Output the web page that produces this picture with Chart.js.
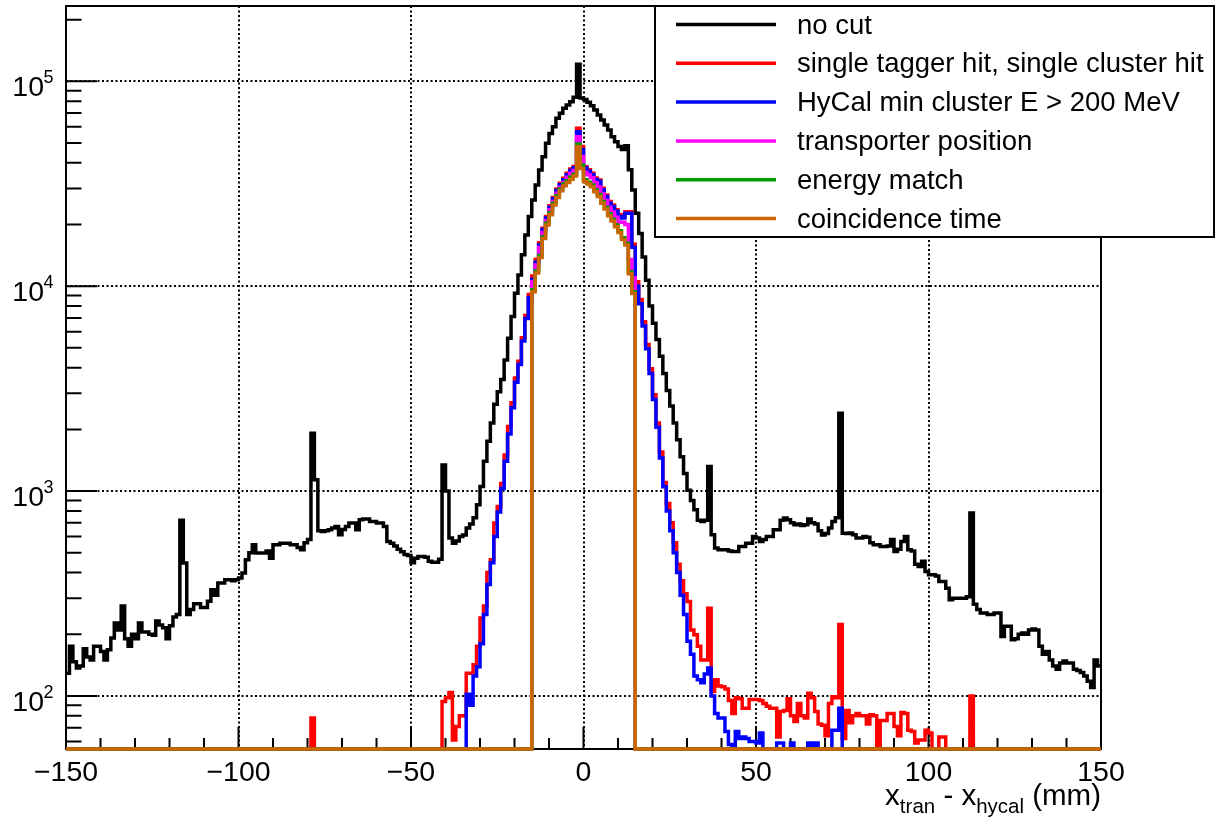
<!DOCTYPE html>
<html lang="en">

<head>
    <meta charset="UTF-8">
    <title>x_tran - x_hycal</title>
    <script src="https://cdn.jsdelivr.net/npm/chart.js"></script>
    <style>
        html, body {
            margin: 0;
            padding: 0;
            background: #fff;
        }

        canvas {
            display: block;
        }
    </style>
</head>

<body>
    <canvas id="diffChart" width="1217" height="823"></canvas>

    <script>
        // 1 mm bins from -150 to 150
        const binLow = -150;
        const binCount = 300;
        const xMin = -150, xMax = 150;
        const yMin = 55.1, yMax = 233100;

        const xMajorTicks = [-150, -100, -50, 0, 50, 100, 150];
        const yDecades = [100, 1000, 10000, 100000];
        const yExponents = ['2', '3', '4', '5'];

        const seriesLabels = [
            'no cut',
            'single tagger hit, single cluster hit',
            'HyCal min cluster E > 200 MeV',
            'transporter position',
            'energy match',
            'coincidence time'
        ];
        const seriesColors = ['#000000', '#ff0000', '#0000ff', '#ff00ff', '#009900', '#cc6600'];

        // no cut: every bin from -150 to 149
        const noCutCounts = [
            129, 175, 147, 137, 140, 170, 155, 150, 175, 175,
            165, 150, 168, 192, 227, 210, 275, 190, 175, 200,
            190, 227, 205, 205, 200, 198, 232, 222, 215, 190,
            220, 243, 250, 720, 446, 250, 264, 282, 282, 270,
            270, 290, 330, 310, 356, 356, 369, 369, 365, 369,
            377, 398, 462, 500, 547, 499, 499, 499, 510, 470,
            547, 547, 557, 557, 557, 547, 547, 530, 517, 560,
            580, 1918, 1135, 640, 635, 640, 647, 660, 671, 612,
            650, 671, 698, 698, 647, 724, 730, 730, 711, 711,
            698, 698, 671, 568, 557, 540, 520, 505, 490, 485,
            447, 470, 480, 480, 475, 454, 450, 450, 465, 1342,
            1000, 590, 557, 570, 600, 610, 660, 690, 740, 857,
            1052, 1400, 1750, 2150, 2650, 3050, 3500, 4365, 5572, 7110,
            9245, 11350, 14220, 17800, 21860, 26360, 31190, 36930, 42860, 49860,
            55700, 60060, 65960, 69820, 73800, 76600, 79550, 83500, 121000, 83000,
            81500, 79000, 76000, 72500, 68500, 64700, 61200, 57900, 53700, 50700,
            48000, 46500, 48500, 37000, 29500, 22700, 18100, 13900, 10700, 8000,
            6600, 5500, 4550, 3750, 3100, 2600, 2150, 1780, 1470, 1220,
            1010, 900, 811, 720, 710, 720, 1318, 612, 527, 517,
            517, 517, 510, 507, 507, 537, 537, 557, 557, 601,
            590, 568, 580, 601, 600, 647, 647, 720, 738, 724,
            700, 685, 690, 680, 685, 730, 700, 690, 640, 610,
            620, 660, 710, 740, 2400, 622, 620, 625, 612, 590,
            590, 600, 595, 560, 547, 547, 537, 537, 540, 580,
            507, 520, 568, 601, 517, 510, 440, 428, 454, 405,
            391, 391, 385, 362, 362, 336, 295, 300, 300, 300,
            300, 305, 781, 280, 264, 254, 254, 250, 250, 254,
            254, 195, 219, 219, 188, 190, 200, 203, 200, 210,
            212, 210, 175, 160, 165, 150, 140, 135, 145, 148,
            145, 145, 135, 133, 130, 125, 118, 110, 150, 140
        ];

        // single tagger hit, single cluster hit: bins -79 .. 112 (empty elsewhere)
        const singleHitFirst = -79;
        const singleHitCounts = [
            78,
            0, 0, 0, 0, 0, 0, 0, 0, 0, 0, 0, 0, 0, 0, 0, 0, 0, 0, 0,
            0, 0, 0, 0, 0, 0, 0, 0, 0, 0, 0, 0, 0, 0, 0, 0, 0, 0,
            94, 98, 104, 61, 71, 80, 80, 129, 129, 142,
            175, 240, 275, 400, 462, 698, 841, 1090, 1500, 2065,
            2700, 3560, 4300, 5600, 7200, 9100, 11200, 13500, 16300, 19200,
            21900, 24700, 27100, 29800, 31800, 33600, 35600, 37300, 38400, 59000,
            48000, 38300, 37000, 35600, 33700, 33000, 30100, 27900, 25900, 24900,
            23600, 22300, 21900, 23100, 23100, 16000, 10500, 8600, 6700, 5200,
            3950, 2950, 2150, 1550, 1100, 870, 700, 560, 440, 365,
            315, 289, 210, 199, 175, 150, 150, 268, 105, 120,
            112, 111, 108, 95, 82, 98, 97, 87, 87, 96,
            96, 96, 95, 92, 89, 87, 87, 63, 84, 85,
            97, 80, 75, 92, 80, 78, 103, 98, 84, 73,
            72, 64, 92, 99, 98, 223, 62, 85, 74, 80,
            82, 80, 80, 73, 81, 80, 0, 76, 76, 82,
            82, 71, 64, 83, 82, 68, 67, 59, 61, 61,
            68, 66, 0, 0, 63, 63, 0, 0, 0, 0,
            0, 0, 0, 100
        ];

        // HyCal min cluster E > 200 MeV: bins -34 .. 74
        const minClusterFirst = -34;
        const minClusterCounts = [
            102, 90, 125, 139, 180, 250, 350, 447, 601, 790,
            1030, 1400, 1900, 2550, 3400, 4150, 5400, 6950, 8800, 10800,
            13100, 15900, 18900, 21500, 24300, 26700, 29300, 31300, 33100, 35000,
            36700, 37800, 56800, 46500, 37700, 36400, 35000, 33200, 32500, 29600,
            27400, 25400, 24500, 23200, 21900, 21500, 22700, 22700, 15500, 10000,
            8200, 6400, 4950, 3750, 2800, 2050, 1450, 1050, 800, 640,
            500, 400, 310, 250, 185, 160, 125, 120, 116, 128,
            137, 100, 82, 78, 78, 67, 58, 0, 67, 62,
            63, 62, 60, 60, 59, 66, 0, 0, 0, 0,
            59, 59, 0, 0, 59, 0, 0, 0, 0, 59,
            57, 59, 0, 0, 0, 0, 68, 68, 87
        ];

        // transporter position, energy match, coincidence time: bins -15 .. 14
        const coreFirst = -15;
        const transporterCounts = [
            10500, 12700, 15400, 18300, 20900, 23600, 25900, 28400, 30400, 32100,
            34000, 35600, 36700, 53700, 43000, 36000, 35000, 33800, 32000, 30500,
            28200, 26200, 24300, 23000, 21700, 20600, 20500, 20000, 13500, 11000
        ];
        const energyMatchCounts = [
            9600, 11850, 14100, 17450, 20300, 22750, 25400, 27650, 29800, 31500,
            32750, 34000, 35200, 49400, 39000, 33100, 32150, 31200, 29500, 28000,
            25900, 24300, 22550, 21200, 19900, 18650, 17250, 16200, 11750, 9400
        ];
        const coincidenceCounts = [
            9400, 11600, 13800, 17100, 19900, 22300, 24900, 27100, 29200, 30900,
            32100, 33300, 34500, 48000, 37500, 32400, 31500, 30600, 28900, 27400,
            25400, 23800, 22100, 20800, 19500, 18300, 16900, 15900, 11500, 9200
        ];

        // one point per bin low edge plus the last upper edge; empty bins sit on the frame bottom
        function histPoints(firstBin, counts) {
            const pts = [];
            for (let i = 0; i < binCount; i++) {
                const edge = binLow + i;
                const k = edge - firstBin;
                const v = (k >= 0 && k < counts.length) ? counts[k] : 0;
                pts.push({ x: edge, y: Math.max(v, yMin) });
            }
            pts.push({ x: binLow + binCount, y: pts[pts.length - 1].y });
            return pts;
        }

        const histos = [
            histPoints(binLow, noCutCounts),
            histPoints(singleHitFirst, singleHitCounts),
            histPoints(minClusterFirst, minClusterCounts),
            histPoints(coreFirst, transporterCounts),
            histPoints(coreFirst, energyMatchCounts),
            histPoints(coreFirst, coincidenceCounts)
        ];

        const FONT = '"Liberation Sans", Arial, Helvetica, sans-serif';

        // ROOT-like frame: dotted grid, inward ticks, labels
        const rootAxes = {
            id: 'rootAxes',
            beforeDatasetsDraw(chart) {
                const { ctx, chartArea: a } = chart;
                const x = chart.scales.x, y = chart.scales.y;
                ctx.save();

                ctx.strokeStyle = '#000';
                ctx.lineWidth = 2;
                ctx.setLineDash([2, 2.5]);
                ctx.beginPath();
                xMajorTicks.forEach(v => {
                    if (v <= xMin || v >= xMax) return;
                    const px = Math.round(x.getPixelForValue(v));
                    ctx.moveTo(px, a.top);
                    ctx.lineTo(px, a.bottom);
                });
                yDecades.forEach(v => {
                    const py = Math.round(y.getPixelForValue(v));
                    ctx.moveTo(a.left, py);
                    ctx.lineTo(a.right, py);
                });
                ctx.stroke();
                ctx.setLineDash([]);

                // ticks
                ctx.lineWidth = 2;
                ctx.beginPath();
                for (let v = xMin + 10; v < xMax; v += 10) {
                    const px = x.getPixelForValue(v);
                    const len = (v % 50 === 0) ? 22 : 11;
                    ctx.moveTo(px, a.bottom);
                    ctx.lineTo(px, a.bottom - len);
                }
                [10, 100, 1000, 10000, 100000].forEach(d => {
                    for (let m = 1; m <= 9; m++) {
                        const v = m * d;
                        if (v < yMin || v > yMax) continue;
                        const py = y.getPixelForValue(v);
                        const len = (m === 1) ? 31 : 15.5;
                        ctx.moveTo(a.left, py);
                        ctx.lineTo(a.left + len, py);
                    }
                });
                ctx.stroke();

                // frame
                ctx.lineWidth = 2;
                ctx.strokeRect(a.left, a.top, a.right - a.left, a.bottom - a.top);

                // x labels
                ctx.fillStyle = '#000';
                ctx.font = '28.5px ' + FONT;
                ctx.textAlign = 'center';
                ctx.textBaseline = 'alphabetic';
                xMajorTicks.forEach(v => {
                    const txt = v < 0 ? '\u2212' + Math.abs(v) : String(v);
                    ctx.fillText(txt, x.getPixelForValue(v), a.bottom + 32);
                });

                // y labels: 10 with raised exponent
                yDecades.forEach((v, i) => {
                    const py = y.getPixelForValue(v);
                    ctx.font = '28.5px ' + FONT;
                    ctx.textAlign = 'right';
                    ctx.fillText('10', 44, py + 15);
                    ctx.font = '18px ' + FONT;
                    ctx.textAlign = 'left';
                    ctx.fillText(yExponents[i], 43.5, py + 2);
                });

                // x title with subscripts, right aligned to the frame
                const parts = [
                    { t: 'x', s: 29.5, dy: 0 },
                    { t: 'tran', s: 20.5, dy: 8 },
                    { t: ' - x', s: 29.5, dy: 0 },
                    { t: 'hycal', s: 20.5, dy: 8 },
                    { t: ' (mm)', s: 29.5, dy: 0 }
                ];
                let total = 0;
                parts.forEach(p => {
                    ctx.font = p.s + 'px ' + FONT;
                    p.w = ctx.measureText(p.t).width;
                    total += p.w;
                });
                let cx = a.right - total;
                ctx.textAlign = 'left';
                parts.forEach(p => {
                    ctx.font = p.s + 'px ' + FONT;
                    ctx.fillText(p.t, cx, 805 + p.dy);
                    cx += p.w;
                });
                ctx.restore();
            }
        };

        const rootLegend = {
            id: 'rootLegend',
            afterDatasetsDraw(chart) {
                const { ctx } = chart;
                ctx.save();
                ctx.fillStyle = '#fff';
                ctx.fillRect(655, 6, 559, 231);
                ctx.strokeStyle = '#000';
                ctx.lineWidth = 2;
                ctx.strokeRect(655, 6, 559, 231);

                ctx.font = '27.5px ' + FONT;
                ctx.textAlign = 'left';
                ctx.textBaseline = 'alphabetic';
                seriesLabels.forEach((label, i) => {
                    const ry = 24.5 + i * 38.8;
                    ctx.strokeStyle = seriesColors[i];
                    ctx.lineWidth = 3.5;
                    ctx.beginPath();
                    ctx.moveTo(676, ry);
                    ctx.lineTo(776, ry);
                    ctx.stroke();
                    ctx.fillStyle = '#000';
                    ctx.fillText(label, 797, ry + 9);
                });
                ctx.restore();
            }
        };

        const ctx = document.getElementById('diffChart').getContext('2d');
        new Chart(ctx, {
            type: 'line',
            data: {
                datasets: histos.map((pts, i) => ({
                    label: seriesLabels[i],
                    data: pts,
                    borderColor: seriesColors[i],
                    backgroundColor: seriesColors[i],
                    borderWidth: 3.5,
                    pointRadius: 0,
                    stepped: 'before',
                    fill: false,
                    clip: false,
                    order: histos.length - i   // later series drawn on top
                }))
            },
            options: {
                responsive: false,
                animation: false,
                events: [],
                parsing: false,
                layout: { padding: { left: 66, top: 6, right: 116, bottom: 74 } },
                scales: {
                    x: { type: 'linear', min: xMin, max: xMax, bounds: 'data', display: false },
                    y: { type: 'logarithmic', min: yMin, max: yMax, bounds: 'data', display: false }
                },
                plugins: {
                    legend: { display: false },
                    tooltip: { enabled: false }
                }
            },
            plugins: [rootAxes, rootLegend]
        });
    </script>
</body>

</html>
